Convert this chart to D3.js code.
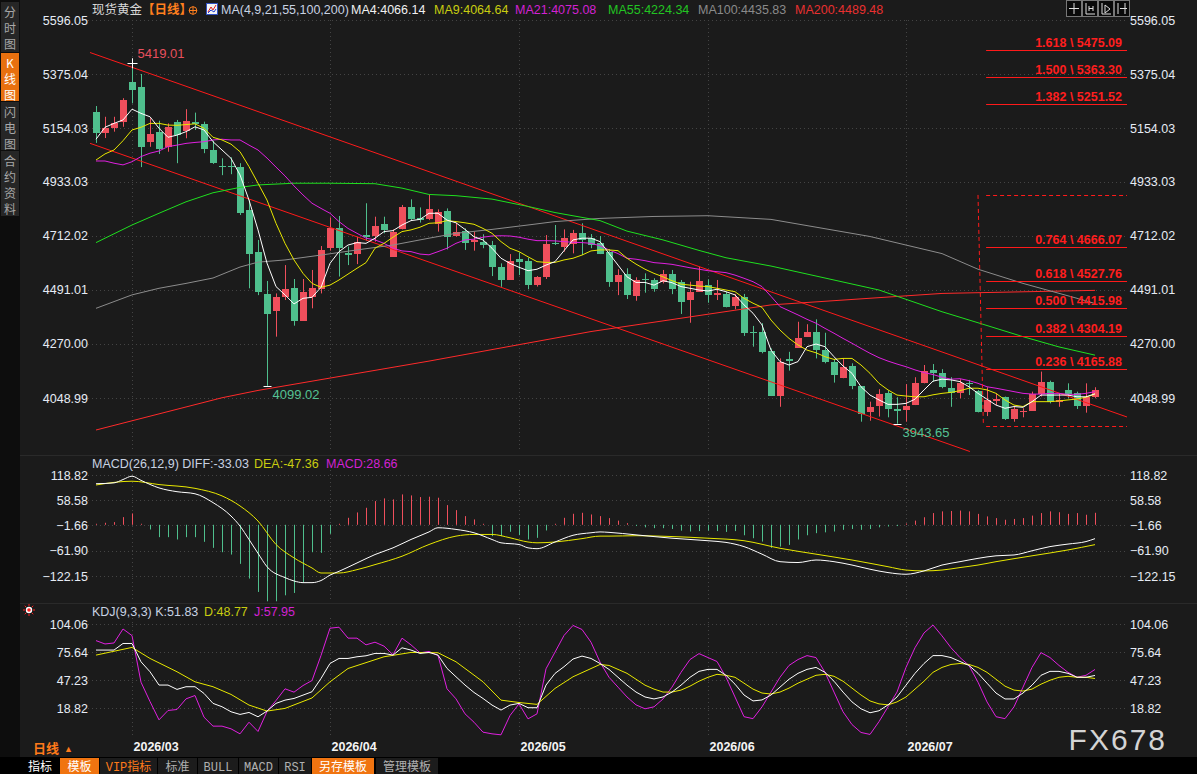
<!DOCTYPE html>
<html>
<head>
<meta charset="utf-8">
<script src="https://cdn.jsdelivr.net/npm/d3@7"></script>
<style>
  body { margin: 0; background: #1b1b1b; overflow: hidden; }
  svg { display: block; }
  text { font-family: "Liberation Sans", Arial, "Noto Sans CJK SC", sans-serif; }
</style>
</head>
<body>
<div id="chart"></div>
<script>
// ---------- data ----------
// daily candles [open, high, low, close], 2026-02-24 .. 2026-07-30
const candles = [
  [5219,5244,5093,5133],[5132,5200,5113,5154],[5154,5200,5139,5173],[5180,5276,5159,5269],
  [5342,5419.01,5255,5310],[5322,5375,4994,5077],[5098,5194,5077,5129],[5138,5184,5048,5068],
  [5075,5173,5057,5159],[5180,5187,5010,5125],[5142,5231,5112,5183],[5180,5217,5146,5171],
  [5171,5180,5051,5068],[5064,5102,5007,5012],[5000,5030,4961,4997],[5000,5034,4965,4997],
  [4996,5010,4798,4805],[4818,4859,4498,4638],[4648,4696,4470,4484],[4475,4528,4099.02,4393],
  [4406,4477,4300,4464],[4464,4593,4450,4495],[4498,4536,4345,4365],[4365,4536,4365,4483],
  [4461,4573,4416,4499],[4495,4671,4477,4655],[4662,4788,4652,4743],[4743,4794,4546,4662],
  [4644,4669,4593,4634],[4638,4709,4597,4689],[4716,4846,4693,4707],[4712,4791,4689,4753],
  [4762,4791,4723,4737],[4627,4739,4627,4730],[4739,4839,4739,4829],[4829,4862,4775,4780],
  [4784,4829,4767,4777],[4780,4880,4777,4821],[4760,4821,4730,4809],[4814,4825,4657,4709],
  [4713,4766,4709,4727],[4733,4743,4655,4682],[4689,4730,4652,4696],[4688,4719,4662,4674],
  [4675,4692,4548,4586],[4584,4600,4504,4532],[4532,4638,4532,4611],[4618,4644,4552,4607],
  [4610,4623,4494,4512],[4512,4548,4505,4544],[4546,4716,4536,4679],[4685,4757,4675,4678],
  [4668,4739,4648,4704],[4678,4737,4641,4726],[4726,4764,4634,4696],[4703,4720,4662,4675],
  [4682,4712,4638,4638],[4648,4658,4504,4525],[4525,4576,4470,4552],[4556,4580,4454,4470],
  [4467,4543,4447,4532],[4537,4559,4480,4534],[4532,4539,4484,4495],[4525,4573,4518,4556],
  [4556,4573,4474,4495],[4525,4532,4393,4443],[4450,4525,4357,4484],[4484,4586,4484,4528],
  [4512,4535,4439,4470],[4470,4532,4450,4480],[4475,4484,4420,4420],[4426,4475,4412,4461],
  [4461,4475,4303,4316],[4318,4344,4259,4315],[4320,4355,4232,4238],[4241,4252,4057,4057],
  [4057,4211,4013,4198],[4207,4238,4161,4202],[4255,4361,4255,4293],[4300,4351,4300,4319],
  [4319,4371,4211,4245],[4245,4316,4191,4198],[4198,4207,4112,4143],[4130,4211,4130,4177],
  [4180,4191,4085,4098],[4098,4098,3952,3983],[3993,4034,3956,4013],[4016,4085,3973,4065],
  [4071,4079,3970,4004],[4004,4052,3943.65,3995],[3999,4106,3952,4016],[4020,4134,4020,4109],
  [4109,4184,4109,4161],[4164,4188,4116,4153],[4150,4167,4089,4096],[4089,4134,4013,4071],
  [4068,4126,4048,4112],[4111,4123,4061,4108],[4079,4082,3990,3990],[3993,4093,3975,4041],
  [4038,4068,4020,4045],[4052,4055,3959,3963],[3963,4013,3952,4004],[3990,4007,3970,3997],
  [3997,4075,3997,4065],[4065,4157,4055,4116],[4116,4120,4027,4034],[4034,4068,4013,4041],
  [4082,4109,4048,4065],[4068,4075,4004,4017],[4017,4109,3989,4052],[4052,4093,4048,4082]
];

const ma4 = [5108,5157,5173,5187,5231,5214,5200,5153,5116,5125,5139,5159,5146,5098,5064,5030,
  4962,4859,4737,4601,4505,4471,4434,4457,4461,4502,4600,4648,4675,4685,4682,4703,4730,4734,
  4757,4775,4780,4805,4805,4777,4766,4739,4709,4696,4662,4621,4600,4584,4570,4576,4593,4607,
  4652,4696,4703,4703,4689,4641,4593,4545,4522,4522,4511,4529,4521,4505,4498,4491,4487,4494,
  4484,4471,4430,4396,4348,4245,4198,4184,4198,4259,4270,4259,4218,4180,4150,4095,4061,4041,
  4023,4023,4027,4044,4082,4118,4126,4123,4116,4095,4068,4044,4020,4007,4014,4011,4034,4061,
  4061,4061,4061,4054,4054,4066.14];

const ma9 = [5023,5048,5064,5102,5146,5157,5173,5173,5166,5165,5168,5171,5153,5116,5105,5088,
  5057,4996,4928,4859,4764,4682,4614,4559,4518,4502,4511,4532,4556,4580,4603,4662,4682,4707,
  4730,4737,4748,4764,4766,4775,4771,4766,4760,4743,4723,4689,4662,4648,4627,4607,4604,4604,
  4614,4621,4634,4651,4655,4655,4652,4621,4597,4576,4559,4545,4529,4515,4511,4507,4505,4498,
  4491,4484,4457,4437,4420,4368,4327,4293,4266,4245,4234,4218,4207,4211,4211,4184,4150,4109,
  4082,4061,4057,4054,4054,4062,4068,4072,4079,4089,4089,4082,4068,4041,4020,4014,4034,4034,
  4034,4037,4041,4045,4052,4064.64];

const ma21 = [5019,5019,5010,5003,5016,5037,5051,5060,5078,5084,5091,5095,5098,5105,5108,5105,
  5105,5084,5064,5031,4994,4958,4917,4880,4846,4825,4805,4771,4743,4723,4703,4696,4682,4662,
  4651,4648,4638,4635,4648,4662,4682,4696,4699,4707,4712,4713,4712,4707,4699,4693,4693,4692,
  4689,4686,4685,4682,4672,4655,4640,4621,4617,4611,4603,4600,4596,4589,4582,4576,4570,4566,
  4562,4552,4539,4525,4505,4465,4423,4406,4389,4371,4355,4334,4314,4293,4273,4252,4232,4214,
  4200,4188,4177,4164,4153,4145,4134,4126,4128,4120,4109,4095,4089,4082,4075,4068,4065,4065,
  4068,4068,4064,4064,4068,4075.08];

// slow averages: [candle index, value]
const ma55 = [[0,4685],[4,4757],[7,4805],[10,4852],[13,4889],[16,4911],[18,4921],[22,4928],
  [26,4928],[31,4926],[34,4908],[37,4882],[40,4877],[44,4863],[48,4833],[51,4808],[56,4775],
  [59,4732],[63,4696],[67,4653],[70,4623],[75,4589],[81,4540],[87,4491],[94,4402],[98,4357],
  [103,4300],[107,4258],[111,4224.34]];
const ma100 = [[0,4416],[4,4471],[7,4498],[10,4518],[13,4540],[16,4585],[18,4605],[21,4614],
  [25,4634],[29,4655],[33,4675],[37,4703],[40,4723],[44,4739],[48,4757],[51,4771],[56,4784],
  [62,4792],[68,4795],[75,4780],[86,4710],[94,4640],[98,4576],[103,4518],[109,4457],[111,4435.83]];
const ma200 = [[0,3918],[7,3984],[14,4050],[18,4080],[37,4200],[55,4321],[75,4430],[94,4477],
  [111,4489.48]];

// MACD(26,12,9)
const macdHist = [2.4,4.8,6.4,18.3,27.1,2.4,-11.2,-29.5,-29.5,-35,-29.5,-29.5,-40.6,-55,-65.4,
  -71,-93.2,-128.3,-160.2,-182.5,-182.5,-168.2,-162.6,-137.1,-65.4,-67,-21.5,2.4,16.7,29.5,40.6,
  56.6,63,60.6,72.5,70.1,66.2,67,64.6,47,35,20.7,12.8,2.4,-27.1,-27.1,-16.7,-24.7,-35,-31.1,-13.5,
  2.4,16.7,26.3,28.7,24.7,20.7,16,10,4,-3,-6,-8,-8,-10,-14,-16,-15,-14,-15,-17,-15,-25,-32,-40,
  -55,-52,-48,-35,-25,-20,-18,-16,-12,-10,-12,-10,-6,-4,-3,3,10,18,28,32,33,34,32,26,20,16,12,
  14,16,22,28,32,30,26,28,24,28.66];
const diffLine = [[0,98],[2,100],[3,108],[4,116],[5,106],[7,88],[9,79],[11,74],[13,53],[15,21],
  [16,-3],[17,-35],[18,-68],[19,-100],[21,-126],[22,-134],[23,-138],[24,-138],[25,-133],[26,-120],
  [27,-111],[29,-91],[31,-71],[33,-55],[35,-35],[37,-17],[38,-7],[40,-11],[42,-19],[44,-35],
  [45,-43],[47,-47],[48,-55],[49,-57],[51,-41],[53,-25],[55,-19],[56,-17],[57,-18],[60,-24],
  [64,-32],[68,-38],[70,-42],[72,-52],[74,-70],[76,-88],[78,-90],[80,-84],[82,-88],[84,-96],
  [86,-106],[88,-114],[90,-118],[92,-110],[94,-96],[96,-88],[98,-80],[100,-74],[102,-72],
  [104,-62],[106,-52],[108,-46],[110,-40],[111,-33.03]];
const deaLine = [[0,95],[4,104],[7,96],[11,87],[14,69],[16,45],[18,9],[20,-47],[22,-79],[24,-103],
  [25,-115],[27,-115],[29,-107],[31,-95],[34,-75],[37,-47],[40,-27],[42,-23],[44,-23],[46,-31],
  [48,-41],[49,-43],[51,-41],[54,-33],[56,-27],[57,-27],[60,-26],[64,-28],[68,-32],[72,-38],
  [76,-56],[80,-70],[84,-84],[88,-100],[90,-108],[92,-110],[94,-108],[96,-102],[98,-96],
  [100,-88],[104,-74],[108,-60],[111,-47.36]];

// KDJ(9,3,3)
const kLine = [77.6,77.6,77.6,84.3,84.3,65.7,55.6,42.1,42.1,37.7,40.4,40.4,33.6,23.5,20.1,15.0,
  12.3,14.3,9.9,15.7,23.5,26.8,28.5,31.9,35.3,48.8,64.0,69.1,69.1,70.8,71.8,74.2,74.2,72.5,79.9,
  77.6,74.2,75.2,72.5,59.0,50.5,42.1,34.6,28.5,21.8,16.7,21.8,23.5,19.1,19.1,42.1,53.9,60.7,68.5,
  71.5,69.1,64.0,58,50,42,35,30,28,30,35,42,50,56,58,58,52,43,32,26,27,32,40,48,54,58,60,55,46,
  35,25,18,14,16,22,30,42,54,64,72,72,70,66,62,54,44,34,28,28,34,42,52,56,56,54,50,50,51.83];
const dLine = [[0,72.5],[4,80.3],[6,69.1],[9,55.6],[11,45.4],[13,40.4],[15,32.6],[17,21.8],
  [19,15.7],[21,18.4],[24,29],[26,45.4],[28,58.9],[32,70.8],[35,75.2],[38,74.9],[40,65.7],
  [43,45.4],[45,26.8],[47,24.4],[49,22.5],[51,38.7],[53,50.5],[56,63],[57,62],[58,58],[59,54],
  [60,48],[61,42],[62,38],[63,35],[64,35],[65,37],[66,41],[67,46],[68,50],[69,53],[70,52],[71,50],
  [72,44],[73,38],[74,34],[75,33],[76,35],[77,39],[78,44],[79,48],[80,52],[81,53],[82,51],[83,46],
  [84,39],[85,32],[86,26],[87,23],[88,22],[89,25],[90,30],[91,38],[92,46],[93,55],[94,60],[95,63],
  [96,64],[97,63],[98,60],[99,55],[100,48],[101,41],[102,37],[103,36],[104,38],[105,43],[106,47],
  [107,50],[108,51],[109,50],[110,50],[111,48.77]];
const jLine = [87.2,83.8,84.8,99.0,92.3,45.0,25.4,6.8,16.3,17.3,28.1,31.5,9.5,0.4,0.4,-2.3,-7.4,
  4.4,-5.0,15.3,26.4,38.3,34.9,41.6,46.7,72.1,99.8,100.8,89.7,89.7,82.9,85.6,81.6,72.8,89.7,82.9,
  74.8,76.2,72.1,38.3,28.1,12.9,4.4,-5.7,-7.4,-8.4,11.2,23.0,7.8,12.9,58.6,75.5,92.4,102.6,98.5,
  85.6,65.4,50,40,30,22,18,20,28,40,55,68,74,70,66,50,30,10,8,20,35,50,62,68,72,70,55,35,15,2,
  -6,-8,5,20,35,60,80,95,103,92,80,70,62,45,25,10,8,20,40,60,75,70,62,55,50,52,57.95];

// axes
const priceTicks = [5596.05, 5375.04, 5154.03, 4933.03, 4712.02, 4491.01, 4270.00, 4048.99];
const macdTicks = [118.82, 58.58, -1.66, -61.90, -122.15];
const kdjTicks = [104.06, 75.64, 47.23, 18.82];
const monthLabels = ["2026/03", "2026/04", "2026/05", "2026/06", "2026/07"];
const monthStart = [4, 26, 47, 68, 90];

// drawings: channel lines [[index, price], [index, price]] and fibonacci levels
const channelLines = [[[-0.67, 5463.0], [114.56, 3971.2]], [[-0.67, 5091.4], [97.1, 3830.0]]];
const fibRatios = ["1.618", "1.500", "1.382", "0.764", "0.618", "0.500", "0.382", "0.236"];
const fibPrices = [5475.09, 5363.30, 5251.52, 4666.07, 4527.76, 4415.98, 4304.19, 4165.88];
const fibRange = [4888.3, 3943.65];
const fibSpan = [98.9, 114.56];

// ---------- chart ----------
const width = 1197, height = 774;
const plotL = 88, plotR = 1127;
const upColor = "#ef4f5c", downColor = "#4fbf8d";
const gridColor = "#444";

const svg = d3.select("#chart").append("svg")
  .attr("width", width)
  .attr("height", height)
  .style("background", "#1b1b1b");

const x = d3.scaleLinear().domain([0, candles.length - 1]).range([96, 1095]);
const yP = d3.scaleLinear().domain([4048.99, 5596.05]).range([398, 20]);
const yM = d3.scaleLinear().domain([-122.15, 118.82]).range([576, 475]);
const yK = d3.scaleLinear().domain([18.82, 104.06]).range([708, 624]);
const cx = i => Math.round(x(i)) + 0.5;

const defs = svg.append("defs");
[["clipMain", 20, 452], ["clipMacd", 470, 603], ["clipKdj", 618, 736]].forEach(([id, t, b]) => {
  defs.append("clipPath").attr("id", id).append("rect")
    .attr("x", plotL).attr("y", t).attr("width", plotR - plotL).attr("height", b - t);
});

// left side strip
svg.append("rect").attr("x", 0).attr("y", 0).attr("width", 20).attr("height", 757).attr("fill", "#0d0d0d");
const sideItems = [
  {chars: ["分", "时", "图"], top: 2, bottom: 52, active: false},
  {chars: ["K", "线", "图"], top: 53, bottom: 101, active: true},
  {chars: ["闪", "电", "图"], top: 102, bottom: 150, active: false},
  {chars: ["合", "约", "资", "料"], top: 151, bottom: 216, active: false}
];
sideItems.forEach(it => {
  svg.append("rect").attr("x", 1).attr("y", it.top).attr("width", 18).attr("height", it.bottom - it.top)
    .attr("fill", it.active ? "#e8700f" : "#262626");
  it.chars.forEach((c, k) => {
    svg.append("text").attr("x", 10).attr("y", it.top + 15 + k * 16)
      .attr("text-anchor", "middle").attr("fill", it.active ? "#ffffff" : "#a8a8a8")
      .style("font-family", "'Noto Sans CJK SC', sans-serif").style("font-size", "12px").text(c);
  });
});

// horizontal grid
function hGrid(scale, ticks) {
  svg.append("g").selectAll("line").data(ticks).join("line")
    .attr("x1", plotL).attr("x2", plotR)
    .attr("y1", d => Math.round(scale(d)) + 0.5).attr("y2", d => Math.round(scale(d)) + 0.5)
    .attr("stroke", gridColor).attr("stroke-dasharray", "1,3");
}
hGrid(yP, priceTicks);
hGrid(yM, macdTicks);
hGrid(yK, kdjTicks);

// vertical grid at month starts
[[20, 452], [470, 602], [618, 736]].forEach(([t, b]) => {
  svg.append("g").selectAll("line").data(monthStart).join("line")
    .attr("x1", d => cx(d)).attr("x2", d => cx(d)).attr("y1", t).attr("y2", b)
    .attr("stroke", gridColor).attr("stroke-dasharray", "1,3");
});

// panel separators
[455, 603].forEach(yy => {
  svg.append("line").attr("x1", 20).attr("x2", width).attr("y1", yy + 0.5).attr("y2", yy + 0.5)
    .attr("stroke", "#2a2a2a");
});

// value axes on both sides
function valueAxes(scale, ticks) {
  const left = svg.append("g").attr("transform", `translate(${plotL},0)`)
    .call(d3.axisLeft(scale).tickValues(ticks).tickFormat(d3.format(".2f")).tickSize(0).tickPadding(0));
  const right = svg.append("g").attr("transform", `translate(1130,0)`)
    .call(d3.axisRight(scale).tickValues(ticks).tickFormat(d3.format(".2f")).tickSize(0).tickPadding(0));
  [left, right].forEach(g => {
    g.select(".domain").remove();
    g.attr("font-family", "'Liberation Sans', Arial, sans-serif").attr("font-size", 12.5);
    g.selectAll("text").attr("fill", "#e6ebf4");
  });
}
valueAxes(yP, priceTicks);
valueAxes(yM, macdTicks);
valueAxes(yK, kdjTicks);

// ---- main panel ----
const main = svg.append("g").attr("clip-path", "url(#clipMain)");

// candles
const candle = main.append("g").selectAll("g").data(candles).join("g");
candle.append("line")
  .attr("x1", (d, i) => cx(i)).attr("x2", (d, i) => cx(i))
  .attr("y1", d => yP(d[1])).attr("y2", d => yP(d[2]))
  .attr("stroke", d => d[3] >= d[0] ? upColor : downColor);
candle.append("rect")
  .attr("x", (d, i) => Math.round(x(i)) - 3)
  .attr("width", 7)
  .attr("y", d => yP(Math.max(d[0], d[3])))
  .attr("height", d => Math.max(1, Math.abs(yP(d[0]) - yP(d[3]))))
  .attr("fill", d => d[3] >= d[0] ? upColor : downColor)
  .attr("shape-rendering", "crispEdges");

// channel lines
main.append("g").selectAll("line").data(channelLines).join("line")
  .attr("x1", d => x(d[0][0])).attr("y1", d => yP(d[0][1]))
  .attr("x2", d => x(d[1][0])).attr("y2", d => yP(d[1][1]))
  .attr("stroke", "#ff1a1a").attr("stroke-width", 1);

// moving averages
const indexed = arr => arr.map((v, i) => [i, v]);
const priceLine = d3.line().x(d => x(d[0])).y(d => yP(d[1]));
const maSeries = [
  {data: ma200, color: "#ff2a2a"},
  {data: ma100, color: "#8c8c8c"},
  {data: ma55, color: "#1fe01f"},
  {data: indexed(ma21), color: "#e020e0"},
  {data: indexed(ma9), color: "#e8e800"},
  {data: indexed(ma4), color: "#ffffff"}
];
main.append("g").selectAll("path").data(maSeries).join("path")
  .attr("d", d => priceLine(d.data))
  .attr("fill", "none").attr("stroke", d => d.color).attr("stroke-width", 1);

// fibonacci retracement
const fib = svg.append("g");
fib.selectAll("line.lvl").data(fibPrices).join("line").attr("class", "lvl")
  .attr("x1", x(fibSpan[0])).attr("x2", x(fibSpan[1]))
  .attr("y1", d => Math.round(yP(d)) + 0.5).attr("y2", d => Math.round(yP(d)) + 0.5)
  .attr("stroke", "#ff1a1a");
fib.selectAll("text").data(fibPrices).join("text")
  .attr("x", x(fibSpan[1]) - 5).attr("y", d => Math.round(yP(d)) - 3)
  .attr("text-anchor", "end").attr("fill", "#ff1e1e")
  .style("font-size", "12.5px").style("font-weight", "bold")
  .text((d, i) => `${fibRatios[i]} \\ ${d.toFixed(2)}`);
fib.selectAll("line.box").data(fibRange).join("line").attr("class", "box")
  .attr("x1", x(fibSpan[0])).attr("x2", x(fibSpan[1]))
  .attr("y1", d => Math.round(yP(d)) + 2.5).attr("y2", d => Math.round(yP(d)) + 2.5)
  .attr("stroke", "#ff1a1a").attr("stroke-dasharray", "4,3");
fib.append("line")
  .attr("x1", x(fibSpan[0] - 0.9)).attr("y1", yP(fibRange[0]) + 2)
  .attr("x2", x(fibSpan[0] - 0.3)).attr("y2", yP(fibRange[1]) + 2)
  .attr("stroke", "#ff1a1a").attr("stroke-dasharray", "4,3");

// high / low markers
const hiIdx = d3.maxIndex(candles, d => d[1]);
const loIdxA = 19, loIdxB = d3.minIndex(candles, d => d[2]);
const hi = candles[hiIdx][1];
svg.append("path")
  .attr("d", `M${cx(hiIdx) - 5},${Math.round(yP(hi)) + 0.5}h10M${cx(hiIdx)},${yP(hi) - 5}v10`)
  .attr("stroke", "#ffffff");
svg.append("text").attr("x", cx(hiIdx) + 5).attr("y", yP(hi) - 5)
  .attr("fill", "#e8505e").style("font-size", "13px").text(hi.toFixed(2));
[loIdxA, loIdxB].forEach(i => {
  const lo = candles[i][2];
  svg.append("line").attr("x1", cx(i) - 4).attr("x2", cx(i) + 4)
    .attr("y1", Math.round(yP(lo)) + 0.5).attr("y2", Math.round(yP(lo)) + 0.5)
    .attr("stroke", "#ffffff");
  svg.append("text").attr("x", cx(i) + 5).attr("y", yP(lo) + 13)
    .attr("fill", "#55c294").style("font-size", "13px").text(lo.toFixed(2));
});

// ---- MACD panel ----
const macd = svg.append("g").attr("clip-path", "url(#clipMacd)");
macd.append("g").selectAll("line").data(macdHist).join("line")
  .attr("x1", (d, i) => cx(i)).attr("x2", (d, i) => cx(i))
  .attr("y1", yM(0)).attr("y2", d => yM(d))
  .attr("stroke", d => d >= 0 ? upColor : downColor);
const macdLine = d3.line().x(d => x(d[0])).y(d => yM(d[1])).curve(d3.curveMonotoneX);
macd.append("path").attr("d", macdLine(deaLine)).attr("fill", "none").attr("stroke", "#e8e800");
macd.append("path").attr("d", macdLine(diffLine)).attr("fill", "none").attr("stroke", "#ffffff");

// ---- KDJ panel ----
const kdj = svg.append("g").attr("clip-path", "url(#clipKdj)");
const kdjLine = d3.line().x(d => x(d[0])).y(d => yK(d[1]));
kdj.append("path").attr("d", kdjLine(indexed(jLine))).attr("fill", "none").attr("stroke", "#e020e0");
kdj.append("path").attr("d", kdjLine(dLine)).attr("fill", "none").attr("stroke", "#e8e800");
kdj.append("path").attr("d", kdjLine(indexed(kLine))).attr("fill", "none").attr("stroke", "#ffffff");

// ---- headers ----
function label(xx, yy, txt, color, opts = {}) {
  return svg.append("text").attr("x", xx).attr("y", yy).attr("fill", color)
    .style("font-size", opts.size || "12.5px")
    .style("font-weight", opts.bold ? "bold" : "normal")
    .style("font-family", opts.cjk ? "'Noto Sans CJK SC', sans-serif" : null)
    .text(txt);
}
label(92, 14, "现货黄金", "#d6d6d6", {cjk: true, size: "12.5px"});
label(142, 14, "【日线】", "#ff7f1e", {cjk: true, bold: true, size: "12.5px"});
svg.append("circle").attr("cx", 193).attr("cy", 10.5).attr("r", 3.8).attr("fill", "none").attr("stroke", "#ff7f1e");
svg.append("path").attr("d", "M189,10.5h8M193,6.5v8").attr("stroke", "#ff7f1e");
svg.append("rect").attr("x", 206.5).attr("y", 3.5).attr("width", 11).attr("height", 11)
  .attr("fill", "#f4f4f4").attr("stroke", "#3050c0");
svg.append("path").attr("d", "M208,12 L211,7 L213,10 L216,5").attr("fill", "none").attr("stroke", "#e02020");
svg.append("path").attr("d", "M208,13 L211,10 L214,12 L216,9").attr("fill", "none").attr("stroke", "#2040d0");
label(221, 14, "MA(4,9,21,55,100,200)", "#c8d2e2");
label(351, 14, "MA4:4066.14", "#f0f0f0");
label(434, 14, "MA9:4064.64", "#c8cc10");
label(515, 14, "MA21:4075.08", "#d222d2");
label(608, 14, "MA55:4224.34", "#22c422");
label(698, 14, "MA100:4435.83", "#8a8a8a");
label(795, 14, "MA200:4489.48", "#e83030");

// toolbar icons top-right
[1066, 1082, 1098, 1114].forEach((bx, k) => {
  svg.append("rect").attr("x", bx + 0.5).attr("y", 0.5).attr("width", 15).attr("height", 16)
    .attr("fill", "#0a0a0a").attr("stroke", "#777");
  const glyph = [
    `M${bx + 8},3v11M${bx + 3},8.5h10`,
    `M${bx + 4},3v11h9M${bx + 7},6v5M${bx + 11},6v5M${bx + 7},8.5h4`,
    `M${bx + 4},3v11h9M${bx + 7},5l5,4l-5,4z`,
    `M${bx + 4},3v11M${bx + 11},3v11M${bx + 6},8.5h7`
  ][k];
  svg.append("path").attr("d", glyph).attr("fill", "none").attr("stroke", "#dddddd");
});

label(92, 468, "MACD(26,12,9) DIFF:-33.03", "#c8d2e2");
label(254, 468, "DEA:-47.36", "#c8cc10");
label(326, 468, "MACD:28.66", "#d222d2");

label(92, 616, "KDJ(9,3,3) K:51.83", "#c8d2e2");
label(204, 616, "D:48.77", "#c8cc10");
label(254, 616, "J:57.95", "#d222d2");

// small red marker left of KDJ header
const sun = svg.append("g").attr("transform", "translate(29,610)");
d3.range(8).forEach(k => {
  const a = k * Math.PI / 4;
  sun.append("line").attr("x1", Math.cos(a) * 4).attr("y1", Math.sin(a) * 4)
    .attr("x2", Math.cos(a) * 6).attr("y2", Math.sin(a) * 6).attr("stroke", "#ff2020");
});
sun.append("circle").attr("r", 3.2).attr("fill", "#ffffff");
sun.append("circle").attr("r", 1.8).attr("fill", "#ff2020");

// ---- date axis ----
const dateAxis = svg.append("g").attr("transform", "translate(0,740)")
  .call(d3.axisBottom(x).tickValues(monthStart).tickFormat((d, i) => monthLabels[i]).tickSize(0).tickPadding(0));
dateAxis.select(".domain").remove();
dateAxis.attr("font-family", "'Liberation Sans', Arial, sans-serif").attr("font-size", 12.5);
dateAxis.selectAll("text")
  .attr("text-anchor", "start").attr("dx", 1).attr("dy", "0.9em")
  .attr("fill", "#f4f4f4").style("font-weight", "bold");

label(33, 753, "日线", "#ff7a1a", {cjk: true, bold: true, size: "13px"});
label(64, 752, "▲", "#ff7a1a", {size: "9px"});

// ---- bottom toolbar ----
svg.append("rect").attr("x", 0).attr("y", 757).attr("width", width).attr("height", 17).attr("fill", "#000");
const tabs = [
  {t: "指标", x0: 22, x1: 58, bg: "#000000", fg: "#ffffff"},
  {t: "模板", x0: 60, x1: 99, bg: "#f07410", fg: "#ffffff"},
  {t: "VIP指标", x0: 100, x1: 157, bg: "#1c1c1c", fg: "#ff7a1a"},
  {t: "标准", x0: 158, x1: 197, bg: "#1c1c1c", fg: "#b0b0b0"},
  {t: "BULL", x0: 198, x1: 238, bg: "#1c1c1c", fg: "#b0b0b0"},
  {t: "MACD", x0: 239, x1: 278, bg: "#1c1c1c", fg: "#b0b0b0"},
  {t: "RSI", x0: 279, x1: 311, bg: "#1c1c1c", fg: "#b0b0b0"},
  {t: "另存模板", x0: 312, x1: 374, bg: "#f07410", fg: "#ffffff"},
  {t: "管理模板", x0: 376, x1: 438, bg: "#1c1c1c", fg: "#b0b0b0"}
];
const tab = svg.append("g").selectAll("g").data(tabs).join("g");
tab.append("rect").attr("x", d => d.x0).attr("y", 758).attr("width", d => d.x1 - d.x0).attr("height", 16)
  .attr("fill", d => d.bg);
tab.append("text").attr("x", d => (d.x0 + d.x1) / 2).attr("y", 770.5).attr("text-anchor", "middle")
  .attr("fill", d => d.fg)
  .style("font-family", "'Liberation Mono', 'Noto Sans CJK SC', monospace")
  .style("font-size", "12px")
  .text(d => d.t);

// watermark
svg.append("text").attr("x", 1167).attr("y", 750).attr("text-anchor", "end")
  .attr("fill", "#d4d4d4").style("font-size", "30px").style("letter-spacing", "2px")
  .text("FX678");
</script>
</body>
</html>
